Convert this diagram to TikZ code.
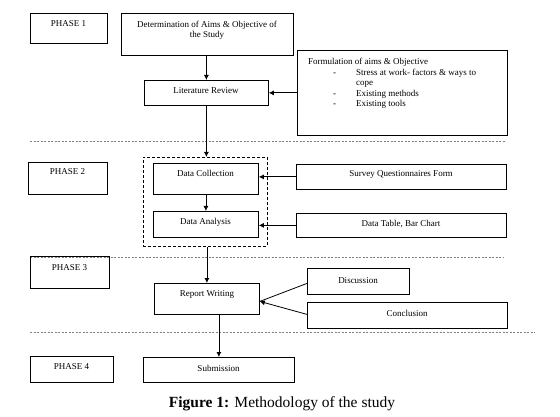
\documentclass[tikz,border=0pt]{standalone}
\usepackage{fontspec}
\setmainfont{Liberation Serif}
\usetikzlibrary{arrows.meta}
\begin{document}
\begin{tikzpicture}[x=1pt,y=-1pt,
  box/.style={draw, line width=0.8pt, inner sep=0pt, anchor=north west},
  txt/.style={inner sep=0pt, anchor=base, font=\fontsize{9}{10.5}\selectfont},
  arr/.style={line width=0.8pt, -{Latex[length=5pt,width=5pt]}},
  ln/.style={line width=0.8pt},
  sep/.style={gray, line width=0.6pt, dash pattern=on 2pt off 1.5pt},
  grpbox/.style={draw, line width=0.8pt, dash pattern=on 3pt off 2pt, inner sep=0pt, anchor=north west}]
\useasboundingbox (0,0) rectangle (560,417);

% separators
\draw[sep] (30,141) -- (505,141);
\draw[sep] (30,257) -- (503,257);
\draw[sep] (30,332) -- (535,332);

% Phase 1
\node[box, minimum width=77pt, minimum height=30pt] (p1) at (30,13) {};
\node[txt] at (68.5,27) {PHASE 1};
\node[box, minimum width=172pt, minimum height=42pt] (det) at (121,13) {};
\node[inner sep=0pt, anchor=north, align=center, font=\fontsize{9}{10.5}\selectfont] (dett) at (207,20.5) {Determination of Aims \& Objective of\\the Study};
\node[box, minimum width=124pt, minimum height=25pt] (lit) at (144,80) {};
\node[txt] at (206,94) {Literature Review};
\node[box, minimum width=210pt, minimum height=85pt] (form) at (297,50) {};
\node[inner sep=0pt, anchor=north west, font=\fontsize{9}{10.5}\selectfont] (formt) at (308,57) {%
\begin{tabular}{@{}p{25pt}@{}p{23pt}@{}l@{}}
\multicolumn{3}{@{}l@{}}{Formulation of aims \& Objective}\\
 & - & Stress at work- factors \& ways to\\
 & & cope\\
 & - & Existing methods\\
 & - & Existing tools
\end{tabular}};

% Phase 2
\node[box, minimum width=79pt, minimum height=32pt] (p2) at (28,162) {};
\node[txt] at (67.5,175) {PHASE 2};
\node[grpbox, minimum width=124pt, minimum height=89pt] (grp) at (143,157) {};
\node[box, minimum width=105pt, minimum height=31pt] (dc) at (153,163) {};
\node[txt] at (205.5,177) {Data Collection};
\node[box, minimum width=105pt, minimum height=26pt] (da) at (153,211) {};
\node[txt] at (205.5,225) {Data Analysis};
\node[box, minimum width=210pt, minimum height=25pt] (surv) at (296,164) {};
\node[txt] at (401,177) {Survey Questionnaires Form};
\node[box, minimum width=210pt, minimum height=24pt] (dt) at (296,213) {};
\node[txt] at (401,226) {Data Table, Bar Chart};

% Phase 3
\node[box, minimum width=79pt, minimum height=32pt] (p3) at (30,256) {};
\node[txt] at (69.5,270) {PHASE 3};
\node[box, minimum width=105pt, minimum height=31pt] (rw) at (154,283) {};
\node[txt] at (207,296) {Report Writing};
\node[box, minimum width=102pt, minimum height=26pt] (disc) at (307,268) {};
\node[txt] at (358,283) {Discussion};
\node[box, minimum width=200pt, minimum height=26pt] (conc) at (307,302) {};
\node[txt] at (407,316) {Conclusion};

% Phase 4
\node[box, minimum width=83pt, minimum height=26pt] (p4) at (30,356) {};
\node[txt] at (71.5,369) {PHASE 4};
\node[box, minimum width=151pt, minimum height=25pt] (sub) at (143,357) {};
\node[txt] at (218.5,371) {Submission};

% caption
\node[inner sep=0pt, anchor=base, font=\fontsize{15.5}{18}\selectfont] (cap) at (282,407) {\textbf{Figure 1:} Methodology of the study};

% connectors
\draw[arr] (det.south -| lit.north) -- (lit.north);
\draw[arr] (form.west |- lit.east) -- (lit.east);
\draw[arr] (lit.south) -- (lit.south |- grp.north);
\draw[arr] (dc.south) -- (da.north);
\draw[arr] (surv.west) -- (surv.west -| dc.east);
\draw[arr] (dt.west) -- (dt.west -| da.east);
\draw[arr] (grp.south -| rw.north) -- (rw.north);
\coordinate (rwin) at ([yshift=-2.5pt]rw.east);
\draw[ln] ([yshift=-2pt]disc.west) -- (rwin);
\draw[arr] ([yshift=1pt]conc.west) -- (rwin);
\draw[arr] (rw.south -| sub.north) -- (sub.north);
\end{tikzpicture}
\end{document}
